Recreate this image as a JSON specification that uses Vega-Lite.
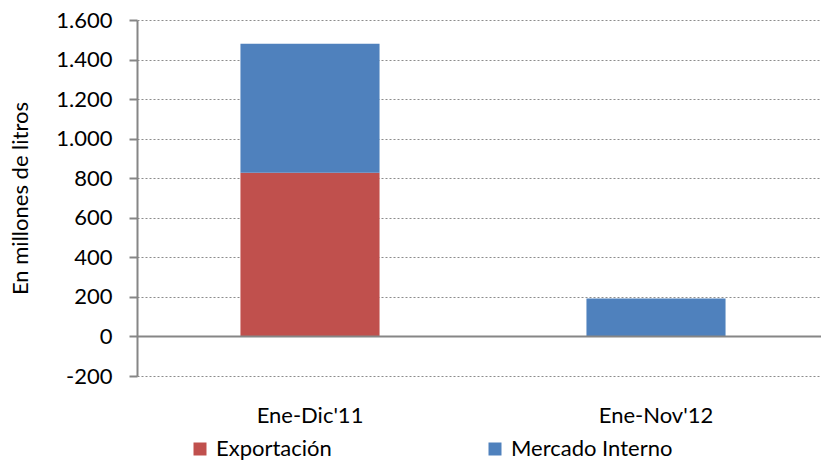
{
  "$schema": "https://vega.github.io/schema/vega-lite/v6.json",
  "autosize": {"type": "none"},
  "padding": {"left": 137, "top": 20, "right": 0, "bottom": 92},
  "width": 684,
  "height": 356,
  "background": "white",
  "config": {
    "font": "Lato",
    "view": {"stroke": null}
  },
  "data": {
    "values": [
      {"periodo": "Ene-Dic'11", "destino": "Exportación", "valor": 828},
      {"periodo": "Ene-Dic'11", "destino": "Mercado Interno", "valor": 652},
      {"periodo": "Ene-Nov'12", "destino": "Exportación", "valor": 0},
      {"periodo": "Ene-Nov'12", "destino": "Mercado Interno", "valor": 192}
    ]
  },
  "layer": [
    {
      "mark": {"type": "bar"},
      "encoding": {
        "x": {
          "field": "periodo",
          "type": "nominal",
          "sort": null,
          "scale": {"range": [0, 692], "paddingInner": 0.598, "paddingOuter": 0.299},
          "axis": {
            "title": null,
            "domain": false,
            "ticks": false,
            "labelAngle": 0,
            "labelFont": "Lato",
            "labelFontSize": 22,
            "labelColor": "#000000",
            "labelPadding": 29
          }
        },
        "y": {
          "field": "valor",
          "type": "quantitative",
          "stack": "zero",
          "scale": {"domain": [-200, 1600], "nice": false, "zero": false},
          "axis": {
            "values": [-200, 0, 200, 400, 600, 800, 1000, 1200, 1400, 1600],
            "tickCount": 20,
            "labelExpr": "replace(replace(format(datum.value, ','), ',', '.'), '\u2212', '-')",
            "labelOverlap": false,
            "labelBound": false,
            "labelFlush": false,
            "title": "En  millones de litros",
            "titleFont": "Lato",
            "titleFontSize": 22,
            "titleFontWeight": "normal",
            "titleColor": "#000000",
            "titlePadding": 23,
            "labelFont": "Lato",
            "labelFontSize": 22,
            "labelColor": "#000000",
            "labelPadding": 17,
            "domainColor": "#868686",
            "domainWidth": 2,
            "tickColor": "#868686",
            "tickWidth": 2,
            "tickSize": 8,
            "grid": true,
            "gridColor": "#8c8c8c",
            "gridDash": [2, 2],
            "gridWidth": 1
          }
        },
        "order": {"field": "destino", "type": "nominal", "sort": "ascending"},
        "color": {
          "field": "destino",
          "type": "nominal",
          "scale": {"domain": ["Exportación", "Mercado Interno"], "range": ["#C0504D", "#4F81BD"]},
          "legend": {
            "title": null,
            "orient": "none",
            "direction": "horizontal",
            "legendX": 52,
            "legendY": 418,
            "padding": 0,
            "symbolType": "square",
            "symbolSize": 169,
            "symbolStrokeWidth": 0,
            "labelFont": "Lato",
            "labelFontSize": 22,
            "labelColor": "#000000",
            "labelOffset": 5,
            "columnPadding": 152,
            "labelLimit": 300
          }
        }
      }
    },
    {
      "data": {"values": [{"cero": 0}]},
      "mark": {"type": "rule", "color": "#868686", "strokeWidth": 2},
      "encoding": {
        "y": {"field": "cero", "type": "quantitative"}
      }
    }
  ]
}
